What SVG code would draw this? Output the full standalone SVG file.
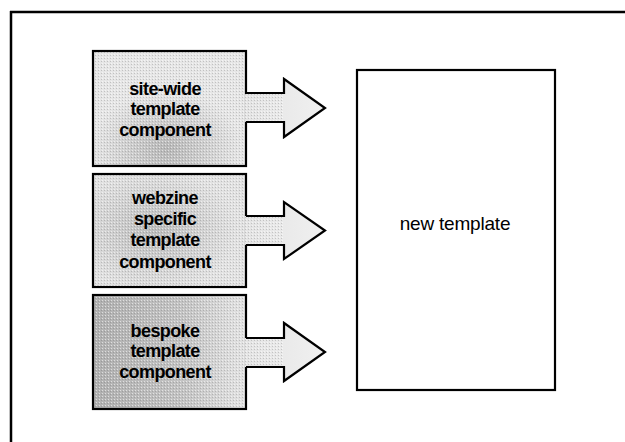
<svg xmlns="http://www.w3.org/2000/svg" width="625" height="442" viewBox="0 0 625 442">
  <style>
    .box { stroke: #000; stroke-width: 2.2; }
    .lbl { font-family: "Liberation Sans", Arial, sans-serif; font-weight: bold; font-size: 18px; letter-spacing: -0.6px; fill: #000; text-anchor: middle; }
    .big { font-family: "Liberation Sans", Arial, sans-serif; font-size: 19px; letter-spacing: -0.2px; fill: #000; text-anchor: middle; }
    .afill { fill: url(#arrowGrad); stroke: none; }
    .aline { fill: none; stroke: #000; stroke-width: 2.2; stroke-linejoin: miter; }
  </style>
  <defs>
    <pattern id="dots" width="3" height="3" patternUnits="userSpaceOnUse">
      <rect width="3" height="3" fill="none"/>
      <rect x="0" y="0" width="1" height="1" fill="#ffffff" opacity="0.55"/>
      <rect x="2" y="1" width="1" height="1" fill="#555" opacity="0.25"/>
    </pattern>
    <radialGradient id="g1" cx="0.48" cy="0.85" r="0.5">
      <stop offset="0" stop-color="#b8b8b8"/>
      <stop offset="1" stop-color="#e6e6e6"/>
    </radialGradient>
    <radialGradient id="g2" cx="0.4" cy="0.5" r="0.55">
      <stop offset="0" stop-color="#bdbdbd"/>
      <stop offset="1" stop-color="#e2e2e2"/>
    </radialGradient>
    <linearGradient id="g3" x1="0" y1="0" x2="1" y2="0">
      <stop offset="0" stop-color="#b0b0b0"/>
      <stop offset="0.6" stop-color="#c4c4c4"/>
      <stop offset="1" stop-color="#e4e4e4"/>
    </linearGradient>
    <linearGradient id="arrowGrad" x1="0" y1="0" x2="1" y2="0">
      <stop offset="0" stop-color="#e4e4e4"/>
      <stop offset="1" stop-color="#f0f0f0"/>
    </linearGradient>
  </defs>

  <rect width="625" height="442" fill="#fff"/>

  <!-- outer frame -->
  <g id="frame" stroke="#000" stroke-width="2.5" fill="none">
    <line x1="10" y1="12" x2="625" y2="12"/>
    <line x1="11" y1="11" x2="11" y2="442"/>
  </g>

  <g id="node-sitewide">
    <rect class="box" x="93" y="51" width="153" height="115" fill="url(#g1)"/>
    <rect x="94" y="52" width="151" height="113" fill="url(#dots)"/>
    <text class="lbl" x="165" y="94.5">site-wide</text>
    <text class="lbl" x="165" y="115">template</text>
    <text class="lbl" x="165" y="135.5">component</text>
  </g>

  <g id="node-webzine">
    <rect class="box" x="93" y="174" width="153" height="113" fill="url(#g2)"/>
    <rect x="94" y="175" width="151" height="111" fill="url(#dots)"/>
    <text class="lbl" x="165" y="204">webzine</text>
    <text class="lbl" x="165" y="225">specific</text>
    <text class="lbl" x="165" y="246">template</text>
    <text class="lbl" x="165" y="267.5">component</text>
  </g>

  <g id="node-bespoke">
    <rect class="box" x="93" y="295" width="153" height="114" fill="url(#g3)"/>
    <rect x="94" y="296" width="151" height="112" fill="url(#dots)"/>
    <text class="lbl" x="165" y="336.5">bespoke</text>
    <text class="lbl" x="165" y="357">template</text>
    <text class="lbl" x="165" y="377.5">component</text>
  </g>

  <g id="node-newtemplate">
    <rect class="box" x="357" y="70" width="198" height="320" fill="#fff"/>
    <text class="big" x="455" y="230">new template</text>
  </g>

  <g id="connectors">
    <g id="arrow1">
      <polygon class="afill" points="244.5,94 284,94 284,79 325,108 284,137 284,122 244.5,122"/>
      <rect x="245" y="94" width="39" height="28" fill="url(#dots)"/>
      <polyline class="aline" points="246,93 284,93 284,79 325,108 284,137 284,122 246,122"/>
    </g>
    <g id="arrow2">
      <polygon class="afill" points="244.5,216 284,216 284,202 325,230.5 284,259 284,245 244.5,245"/>
      <rect x="245" y="216" width="39" height="29" fill="url(#dots)"/>
      <polyline class="aline" points="246,216 284,216 284,202 325,230.5 284,259 284,245 246,245"/>
    </g>
    <g id="arrow3">
      <polygon class="afill" points="244.5,338 284,338 284,323 325,352 284,381 284,367 244.5,367"/>
      <rect x="245" y="338" width="39" height="29" fill="url(#dots)"/>
      <polyline class="aline" points="246,338 284,338 284,323 325,352 284,381 284,367 246,367"/>
    </g>
  </g>
</svg>
